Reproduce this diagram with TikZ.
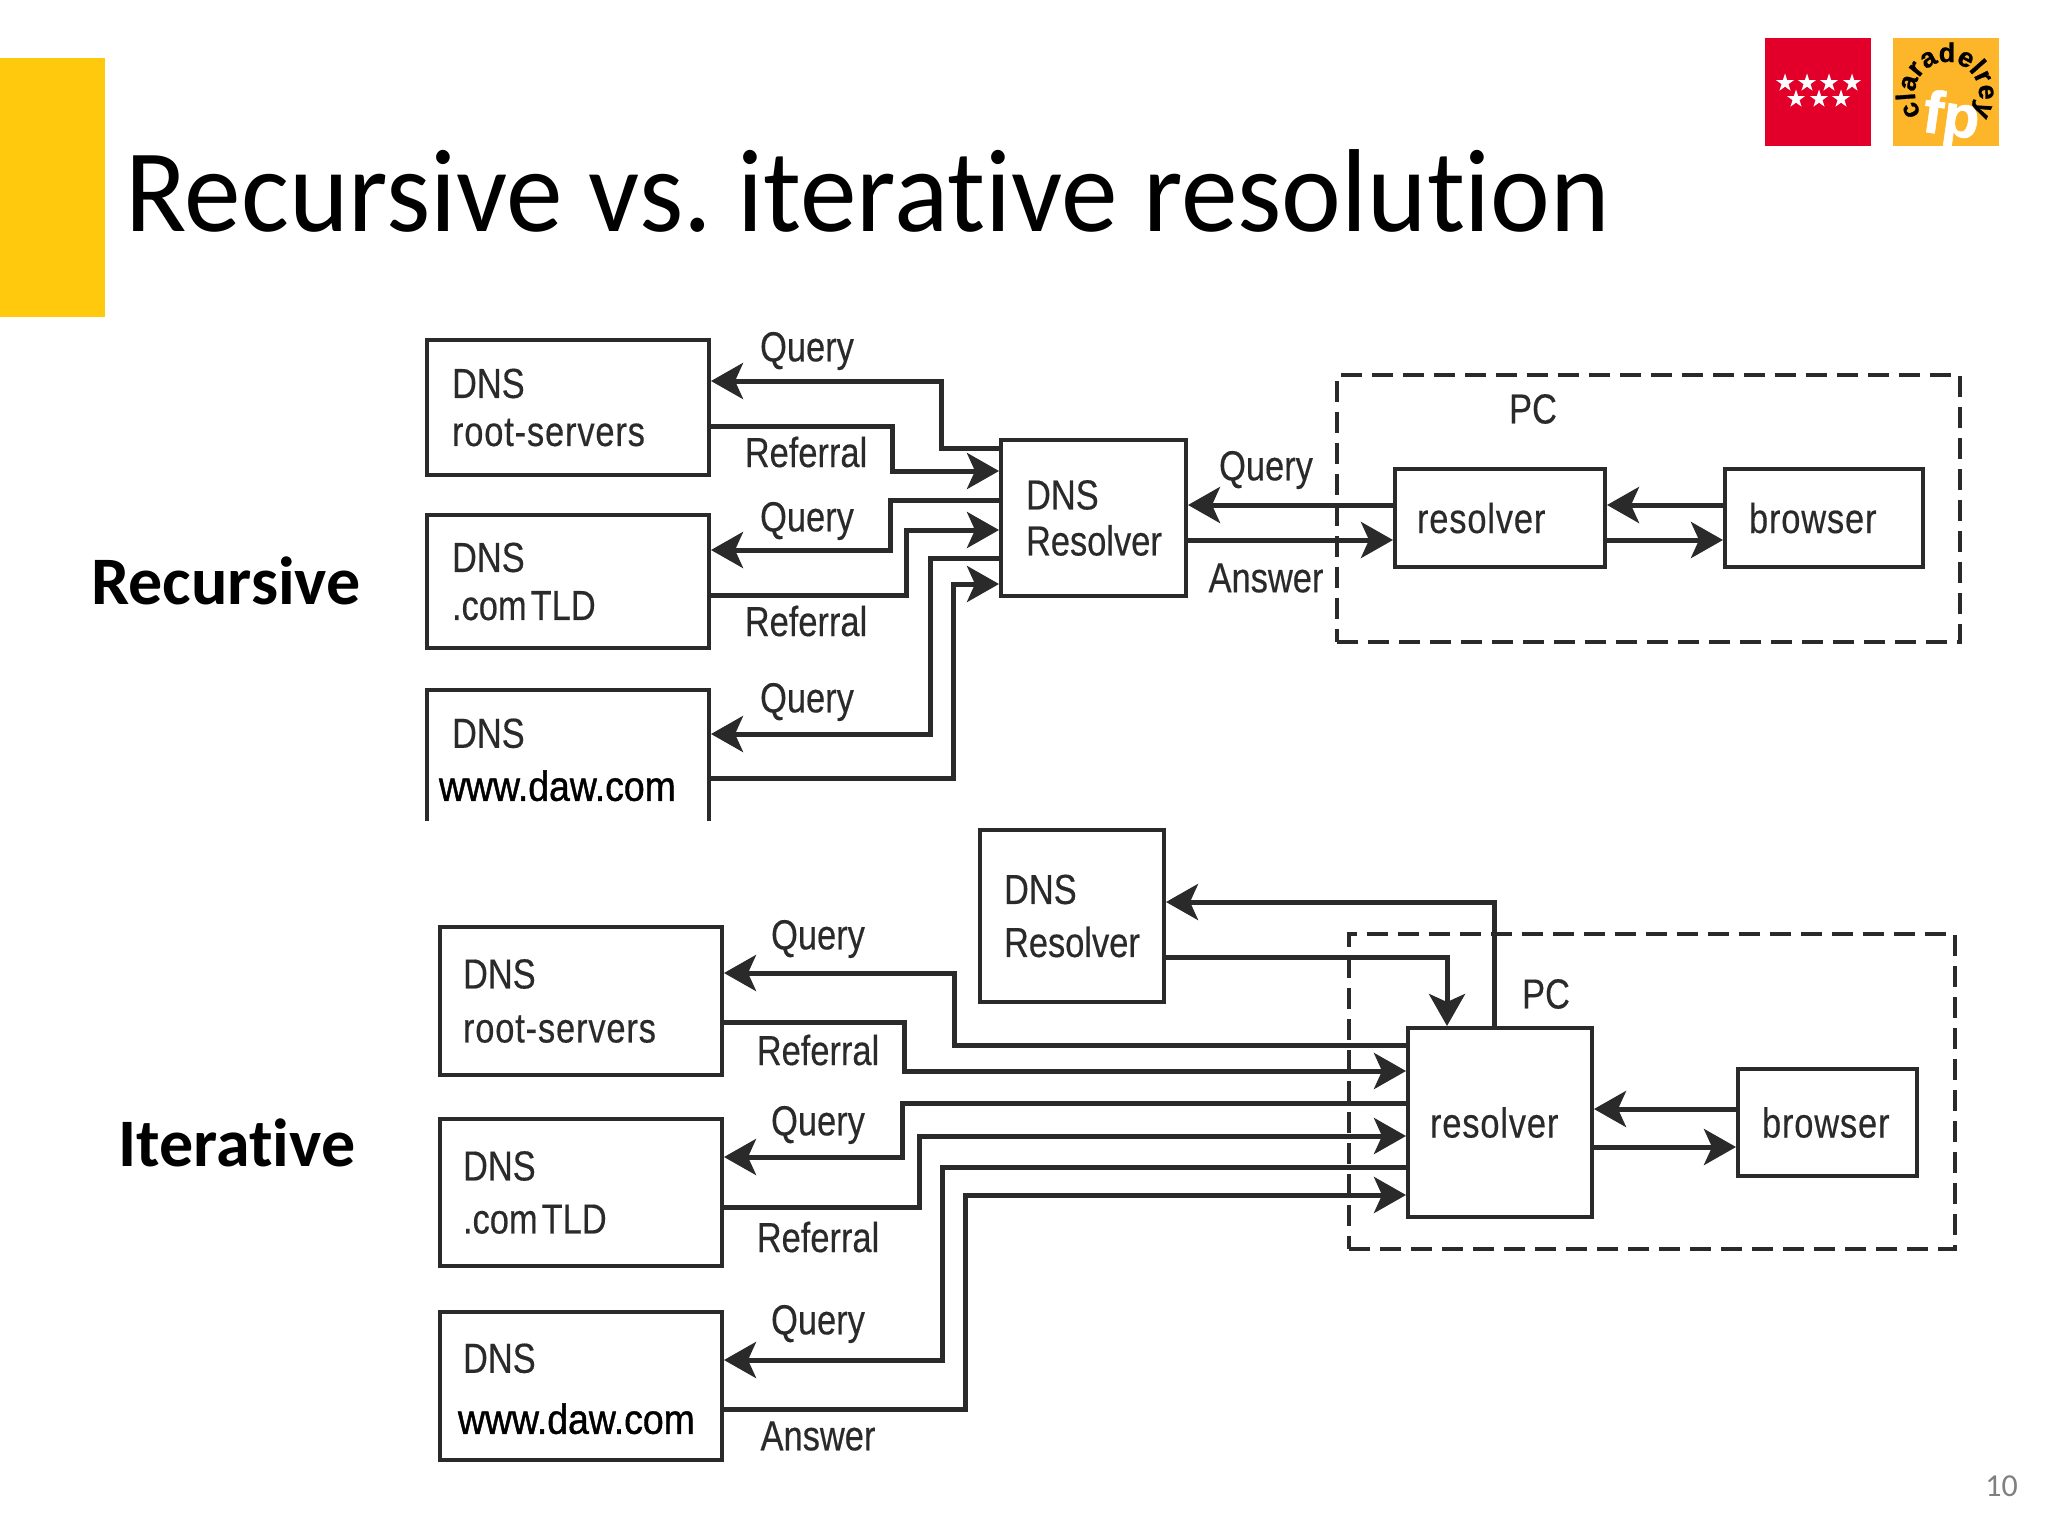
\documentclass[tikz,border=0pt]{standalone}
\usepackage{fontspec}
\setmainfont{Liberation Sans}[FakeStretch=0.82,FakeBold=0.35]
\newfontfamily\spacedfont{Liberation Sans}[FakeStretch=0.82,FakeBold=0.35,LetterSpace=2]
\newfontfamily\slidefont{Carlito}[Ligatures=NoCommon]
\newfontfamily\titlefont{Carlito}[Ligatures=NoCommon,FakeStretch=0.96]
\newfontfamily\webfont{Liberation Sans}[FakeStretch=0.89,FakeBold=1]
\newfontfamily\logofont{Liberation Sans}[FakeBold=1]
\usetikzlibrary{arrows.meta,shapes.geometric,decorations.text}
\definecolor{ink}{HTML}{2A2A2A}
\definecolor{slideyellow}{HTML}{FFC90E}
\definecolor{logored}{HTML}{E2002B}
\definecolor{logoorange}{HTML}{FDB52A}
\newcommand{\arcfont}{\logofont\bfseries\fontsize{27}{27}\selectfont}
\tikzset{
  box/.style={draw=ink,line width=4pt,align=left,inner ysep=0pt,outer sep=0pt,anchor=north west,
    text=ink,font=\fontsize{42}{48}\selectfont},
  lbl/.style={text=ink,inner sep=0pt,font=\fontsize{42}{48}\selectfont},
  heading/.style={inner sep=0pt,font=\slidefont\bfseries\fontsize{68}{74}\selectfont},
  conn/.style={draw=ink,line width=5pt,
    -{Stealth[length=32pt,width=36pt,inset=8pt]},shorten >=2pt},
  pcbox/.style={draw=ink,line width=4pt,dash pattern=on 21pt off 10pt,outer sep=0pt,inner sep=0pt,anchor=north west},
  star5/.style={star,star points=5,star point ratio=2.6,fill=white,draw=none,
    minimum size=19pt,inner sep=0pt}
}
\begin{document}
\begin{tikzpicture}[x=1pt,y=-1pt]
\useasboundingbox (0,0) rectangle (2048,1536);

% slide frame
\fill[slideyellow] (0,58) rectangle (105,317);
\node[anchor=base west,inner sep=0pt,font=\titlefont\fontsize{118}{130}\selectfont] (title) at (125,231) {\frenchspacing Recursive vs. iterative resolution};
\node[anchor=east,inner sep=0pt,text=gray,font=\slidefont\fontsize{32}{36}\selectfont] (pageno) at (2018,1486) {10};

% logos
\fill[logored] (1765,38) rectangle (1871,146);
\foreach \x/\y [count=\i] in {1785/83,1807/83,1829/83,1852/83,1796/99,1819/99,1841/99}
  \node[star5] (s\i) at (\x,\y) {};
\fill[logoorange] (1893,38) rectangle (1999,146);
\begin{scope}[shift={(1947,94)},y=1pt]
  \path[decorate,decoration={text along path,text align=center,
    text={|\arcfont|claradelrey}}] (218:32) arc (218:-38:32);
\end{scope}
\node[inner sep=0pt,text=white,rotate=-8,font=\logofont\bfseries\fontsize{60}{60}\selectfont] (fp) at (1951,120) {fp};

% section headings
\node[heading] (rec) at (226,581) {Recursive};
\node[heading] (ite) at (237,1143) {Iterative};

% ---- recursive ----
\node[pcbox,draw,minimum width=623pt,minimum height=267pt] (pc1) at (1337,375) {};
\node[box,minimum height=135pt,inner xsep=25pt,text width=232pt] (root1) at (427,340) {DNS\\{\spacedfont root-servers}};
\node[box,minimum height=133pt,inner xsep=25pt,text width=232pt] (tld1) at (427,515) {DNS\\.com\hspace{4pt}TLD};
\node[box,draw=none,minimum height=131pt,inner xsep=25pt,text width=232pt] (www1) at (427,690) {DNS\rule{0pt}{38pt}\\[5pt]\hspace*{-13pt}{\webfont\color{black}www.daw.com}};
\draw[ink,line width=4pt] (www1.south west) -- (www1.north west) -- (www1.north east) -- (www1.south east);
\node[box,minimum height=156pt,inner xsep=25pt,text width=135pt] (dns1) at (1001,440) {DNS\\[-2pt]Resolver};
\node[box,minimum height=98pt,inner xsep=22pt,text width=166pt] (res1) at (1395,469) {\spacedfont resolver};
\node[box,minimum height=98pt,inner xsep=24pt,text width=150pt] (bro1) at (1725,469) {\spacedfont browser};

\draw[conn] (dns1.west |- 0,448) -- (941,448) |- (root1.east |- 0,381);
\draw[conn] (root1.east |- 0,426) -- (892,426) |- (dns1.west |- 0,471);
\draw[conn] (dns1.west |- 0,500) -- (890,500) |- (tld1.east |- 0,550);
\draw[conn] (tld1.east |- 0,595) -- (906,595) |- (dns1.west |- 0,530);
\draw[conn] (dns1.west |- 0,558) -- (930,558) |- (www1.east |- 0,734);
\draw[conn] (www1.east |- 0,778) -- (953,778) |- (dns1.west |- 0,584);
\draw[conn] (res1.west |- 0,505) -- (dns1.east |- 0,505);
\draw[conn] (dns1.east |- 0,540) -- (res1.west |- 0,540);
\draw[conn] (bro1.west |- 0,505) -- (res1.east |- 0,505);
\draw[conn] (res1.east |- 0,540) -- (bro1.west |- 0,540);

\node[lbl] (q1) at (807,351) {Query};
\node[lbl] (r1) at (806,452) {Referral};
\node[lbl] (q2) at (807,521) {Query};
\node[lbl] (r2) at (806,621) {Referral};
\node[lbl] (q3) at (807,702) {Query};
\node[lbl] (q4) at (1266,470) {Query};
\node[lbl] (a1) at (1266,578) {Answer};
\node[lbl] (pclab1) at (1533,409) {PC};

% ---- iterative ----
\node[pcbox,draw,minimum width=606pt,minimum height=315pt] (pc2) at (1349,934) {};
\node[box,minimum height=148pt,inner xsep=23pt,text width=236pt] (root2) at (440,927) {DNS\\[6pt]{\spacedfont root-servers}};
\node[box,minimum height=147pt,inner xsep=23pt,text width=236pt] (tld2) at (440,1119) {DNS\\[5pt].com\hspace{4pt}TLD};
\node[box,minimum height=148pt,inner xsep=23pt,text width=236pt] (www2) at (440,1312) {DNS\rule{0pt}{35pt}\\[13pt]\hspace*{-5pt}{\webfont\color{black}www.daw.com}};
\node[box,minimum height=172pt,inner xsep=24pt,text width=136pt] (dns2) at (980,830) {DNS\\[5pt]Resolver};
\node[box,minimum height=189pt,inner xsep=22pt,text width=140pt] (res2) at (1408,1028) {\spacedfont resolver};
\node[box,minimum height=107pt,inner xsep=24pt,text width=131pt] (bro2) at (1738,1069) {\spacedfont browser};

\draw[conn] (res2.west |- 0,1045) -- (954,1045) |- (root2.east |- 0,973);
\draw[conn] (root2.east |- 0,1022) -- (904,1022) |- (res2.west |- 0,1071);
\draw[conn] (res2.west |- 0,1103) -- (902,1103) |- (tld2.east |- 0,1157);
\draw[conn] (tld2.east |- 0,1207) -- (919,1207) |- (res2.west |- 0,1136);
\draw[conn] (res2.west |- 0,1167) -- (942,1167) |- (www2.east |- 0,1360);
\draw[conn] (www2.east |- 0,1409) -- (965,1409) |- (res2.west |- 0,1195);
\draw[conn] (res2.north -| 1494,0) -- (1494,902) -- (dns2.east |- 0,902);
\draw[conn] (dns2.east |- 0,957) -| (res2.north -| 1447,0);
\draw[conn] (bro2.west |- 0,1109) -- (res2.east |- 0,1109);
\draw[conn] (res2.east |- 0,1147) -- (bro2.west |- 0,1147);

\node[lbl] (q5) at (818,939) {Query};
\node[lbl] (r3) at (818,1050) {Referral};
\node[lbl] (q6) at (818,1125) {Query};
\node[lbl] (r4) at (818,1237) {Referral};
\node[lbl] (q7) at (818,1324) {Query};
\node[lbl] (a2) at (818,1436) {Answer};
\node[lbl] (pclab2) at (1546,994) {PC};
\end{tikzpicture}
\end{document}
